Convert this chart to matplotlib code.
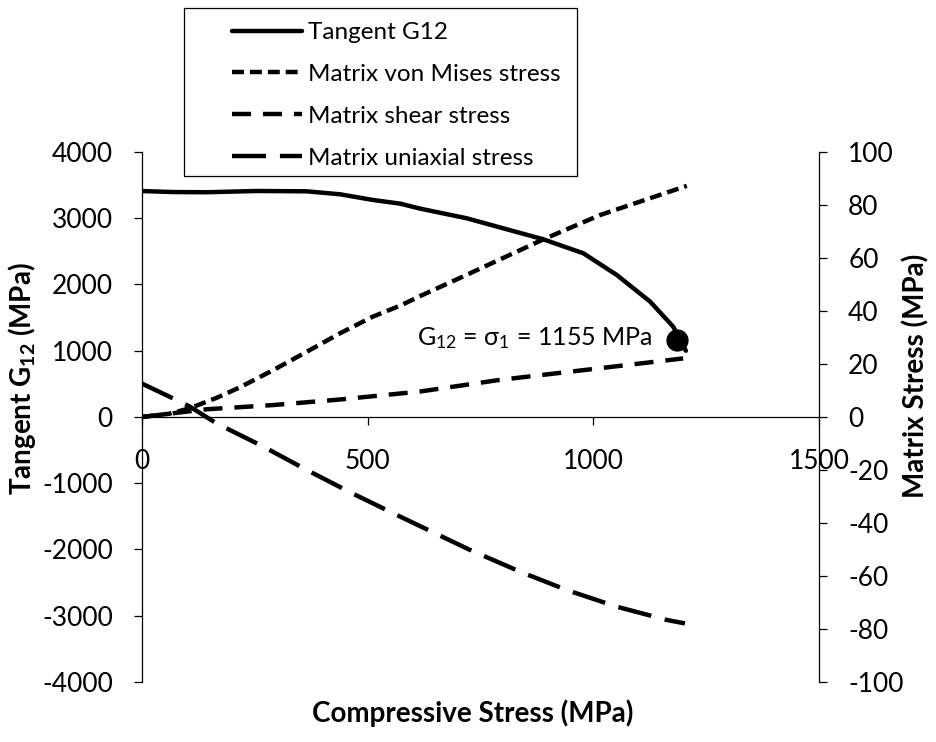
import numpy as np
import matplotlib
matplotlib.use('Agg')
import matplotlib.pyplot as plt
from matplotlib.patches import Rectangle

plt.rcParams['font.family'] = ['Lato', 'DejaVu Sans']
plt.rcParams['mathtext.fontset'] = 'custom'
plt.rcParams['mathtext.rm'] = 'Lato'
plt.rcParams['mathtext.bf'] = 'Lato:bold'
plt.rcParams['mathtext.default'] = 'regular'
plt.rcParams['lines.scale_dashes'] = False
plt.rcParams['axes.unicode_minus'] = False

# tangent shear modulus (left axis, MPa)
tangent_x = [0, 69, 143, 254, 365, 439, 512, 572, 616, 719, 800, 889, 978, 1052, 1126, 1177, 1205]
tangent_g12 = [3410, 3395, 3392, 3411, 3406, 3361, 3275, 3220, 3145, 3000, 2848, 2682, 2470, 2143, 1740, 1363, 1000]

# matrix stresses (right axis, MPa)
mises_x = [0, 60, 106, 165, 217, 291, 365, 439, 512, 572, 616, 719, 889, 1015, 1207]
mises_s = [0, 1.2, 3.3, 7.2, 11.2, 17.7, 24.6, 31.6, 37.9, 42.0, 45.6, 53.6, 67.0, 76.2, 87.2]

shear_x = [0, 69, 143, 291, 439, 616, 793, 1015, 1199]
shear_s = [0, 1.4, 2.9, 4.5, 6.6, 9.6, 14.0, 18.4, 22.1]

uni_x = [0, 69, 106, 165, 269, 365, 468, 572, 727, 838, 941, 1052, 1163, 1203]
uni_s = [12.6, 7.0, 3.9, -2.4, -11.2, -20.0, -29.0, -37.6, -50.2, -58.4, -65.3, -71.6, -76.6, -77.9]

# point where G12 drops to the applied stress
crit_x = 1185
crit_g12 = 1155

left_ticks = [-4000, -3000, -2000, -1000, 0, 1000, 2000, 3000, 4000]
right_ticks = [-100, -80, -60, -40, -20, 0, 20, 40, 60, 80, 100]
x_ticks = [0, 500, 1000, 1500]

lw = 3.2
fig = plt.figure(figsize=(9.36, 7.42), dpi=100)
ax = fig.add_axes([0.1517, 0.0809, 0.7233, 0.7143])
ax2 = ax.twinx()

l1, = ax.plot(tangent_x, tangent_g12, color='black', lw=lw, solid_capstyle='round')
ax.plot([crit_x], [crit_g12], 'o', color='black', ms=15)
l2, = ax2.plot(mises_x, mises_s, color='black', lw=lw, dashes=(8.6, 4.3))
l3, = ax2.plot(shear_x, shear_s, color='black', lw=lw, dashes=(13.7, 8.6))
l4, = ax2.plot(uni_x, uni_s, color='black', lw=lw, dashes=(24.5, 10))

ax.set_xlim(0, 1500)
ax.set_ylim(-4000, 4000)
ax2.set_ylim(-100, 100)
ax.set_xticks(x_ticks)
ax.set_yticks(left_ticks)
ax2.set_yticks(right_ticks)

for s in ['top', 'right']:
    ax.spines[s].set_visible(False)
ax.spines['bottom'].set_position(('data', 0))
for s in ['top', 'left', 'bottom']:
    ax2.spines[s].set_visible(False)
for sp in list(ax.spines.values()) + list(ax2.spines.values()):
    sp.set_linewidth(0.9)

ax.tick_params(axis='y', direction='out', length=6, width=0.9, pad=15, labelsize=19)
ax.tick_params(axis='x', direction='out', length=6, width=0.9, pad=17, labelsize=19)
ax2.tick_params(axis='y', direction='out', length=6, width=0.9, pad=15, labelsize=19)

ax.set_ylabel('Tangent G$_{\\mathbf{12}}$ (MPa)', fontsize=20, fontweight='bold')
ax.yaxis.set_label_coords(-0.154, 0.572)
ax2.set_ylabel('Matrix Stress (MPa)', fontsize=20, fontweight='bold', rotation=90)
ax2.yaxis.set_label_coords(1.123, 0.577)
ax.set_xlabel('Compressive Stress (MPa)', fontsize=20, fontweight='bold')
ax.xaxis.set_label_coords(0.488, -0.032)

ax.text(1130, 1190, 'G$_{12}$ = σ$_1$ = 1155 MPa', fontsize=18, ha='right', va='center')

# legend box sits above the plot area
fig.patches.append(Rectangle((184 / 936, 1 - 176 / 742), 393 / 936, 168 / 742,
                             transform=fig.transFigure, facecolor='white',
                             edgecolor='black', lw=0.9))
handles = [l1, l2, l3, l4]
labels = ['Tangent G12', 'Matrix von Mises stress', 'Matrix shear stress', 'Matrix uniaxial stress']
fig.legend(handles, labels, loc='upper left', bbox_to_anchor=(232 / 936, 1 - 22 / 742),
           bbox_transform=fig.transFigure, frameon=False, fontsize=17.5,
           handlelength=2.88, handletextpad=0.25, labelspacing=0.86,
           borderpad=0, borderaxespad=0)

fig.savefig('out.png', dpi=100)
